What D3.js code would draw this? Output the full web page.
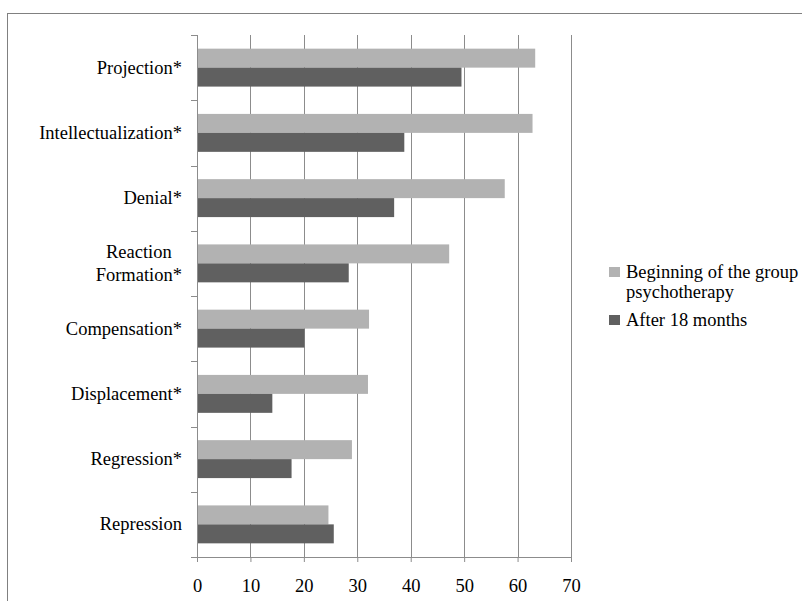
<!DOCTYPE html>
<html>
<head>
<meta charset="utf-8">
<script src="https://cdn.jsdelivr.net/npm/d3@7"></script>
</head>
<body style="margin:0">
<svg id="plot" width="802" height="601"></svg>
<script>
const width = 802
const height = 601
const margin = ({top: 35, right: 233, bottom: 44, left: 197})
const fontFamily = "Liberation Serif"

// categories top to bottom
const categories = ["Projection*", "Intellectualization*", "Denial*", "Reaction Formation*",
  "Compensation*", "Displacement*", "Regression*", "Repression"]
const beginning = [63.3, 62.8, 57.6, 47.2, 32.2, 32.0, 29.0, 24.6]
const after18 = [49.5, 38.8, 36.9, 28.4, 20.1, 14.1, 17.7, 25.6]
const seriesNames = ["Beginning of the group psychotherapy", "After 18 months"]
const seriesColors = ["#b2b2b2", "#606060"]
const xTicks = [0, 10, 20, 30, 40, 50, 60, 70]

// put the font straight on each text element
const setFont = sel => sel
  .attr("font-size", "18.5px")
  .style("font-family", `"${fontFamily}"`)

const x = d3.scaleLinear()
  .domain([0, 70])
  .range([margin.left, width - margin.right + 2])

const y = d3.scaleBand()
  .domain(categories)
  .range([margin.top, height - margin.bottom])

const inner = d3.scaleBand()
  .domain([0, 1])
  .range([0, y.bandwidth()])
  .paddingInner(0)
  .paddingOuter(0.72)

const svg = d3.select("#plot")

// outer frame
svg.append("rect")
  .attr("x", 7.5)
  .attr("y", 13.5)
  .attr("width", width + 10)
  .attr("height", height + 10)
  .attr("fill", "none")
  .attr("stroke", "#808080")

// gridlines
svg.append("g")
  .selectAll("line")
  .data(xTicks.slice(1))
  .join("line")
  .attr("x1", d => Math.round(x(d)) + 0.5)
  .attr("x2", d => Math.round(x(d)) + 0.5)
  .attr("y1", margin.top)
  .attr("y2", height - margin.bottom)
  .attr("stroke", "#8c8c8c")

// bars
const series = [beginning, after18]
series.forEach((vals, s) => {
  svg.append("g")
    .selectAll("rect")
    .data(categories)
    .join("rect")
    .attr("fill", seriesColors[s])
    .attr("x", x(0))
    .attr("y", d => y(d) + inner(s))
    .attr("width", (d, i) => x(vals[i]) - x(0))
    .attr("height", inner.bandwidth())
})

// y axis with ticks at category boundaries
const yAxis = svg.append("g")
yAxis.append("line")
  .attr("x1", x(0) + 0.5).attr("x2", x(0) + 0.5)
  .attr("y1", margin.top).attr("y2", height - margin.bottom)
  .attr("stroke", "#8c8c8c")
yAxis.selectAll(".cat-tick")
  .data(categories)
  .join("line")
  .attr("class", "cat-tick")
  .attr("x1", x(0) - 6).attr("x2", x(0))
  .attr("y1", d => Math.round(y(d)) + 0.5)
  .attr("y2", d => Math.round(y(d)) + 0.5)
  .attr("stroke", "#8c8c8c")

// category labels; the two-line one is centred inside a right-aligned block
const labelRight = x(0) - 15
const labelRows = []
categories.forEach(c => {
  const cy = y(c) + y.bandwidth() / 2
  if (c === "Reaction Formation*") {
    labelRows.push({text: "Reaction", y: cy + 6 - 11.5, block: true})
    labelRows.push({text: "Formation*", y: cy + 6 + 11.5, block: true})
  } else {
    labelRows.push({text: c, y: cy + 6, block: false})
  }
})
const labelText = svg.append("g")
  .selectAll("text")
  .data(labelRows)
  .join("text")
  .call(setFont)
  .attr("fill", "#000")
  .attr("text-anchor", d => d.block ? "middle" : "end")
  .attr("x", labelRight)
  .attr("y", d => d.y)
  .text(d => d.text)
// centre the two-line block on its widest line
const blockW = d3.max(labelText.filter(d => d.block).nodes(), n => n.getComputedTextLength())
labelText.filter(d => d.block).attr("x", labelRight - blockW / 2)

// x axis
const xAxis = svg.append("g")
  .attr("transform", `translate(0,${height - margin.bottom})`)
  .call(d3.axisBottom(x).tickValues(xTicks).tickSize(5).tickPadding(17).tickFormat(d3.format("d")))
xAxis.attr("font-family", null).attr("font-size", null)
xAxis.select(".domain").remove()
xAxis.append("line")
  .attr("x1", x(0) - 6).attr("x2", x(70) + 1)
  .attr("y1", 0.5).attr("y2", 0.5)
  .attr("stroke", "#8c8c8c")
xAxis.selectAll(".tick line").attr("stroke", "#8c8c8c")
xAxis.selectAll(".tick text")
  .call(setFont)
  .attr("fill", "#000")

// legend
const legendRows = [
  {lines: ["Beginning of the group", "psychotherapy"], y: 272},
  {lines: ["After 18 months"], y: 320}
]
svg.append("g")
  .selectAll("rect")
  .data(legendRows)
  .join("rect")
  .attr("x", 609)
  .attr("y", d => d.y - 5)
  .attr("width", 11)
  .attr("height", 10)
  .attr("fill", (d, i) => seriesColors[i])
svg.append("g")
  .selectAll("text")
  .data(legendRows.flatMap(r => r.lines.map((l, i) => ({text: l, y: r.y + 6 + i * 20}))))
  .join("text")
  .call(setFont)
  .attr("fill", "#000")
  .attr("x", 626)
  .attr("y", d => d.y)
  .text(d => d.text)
</script>
</body>
</html>
